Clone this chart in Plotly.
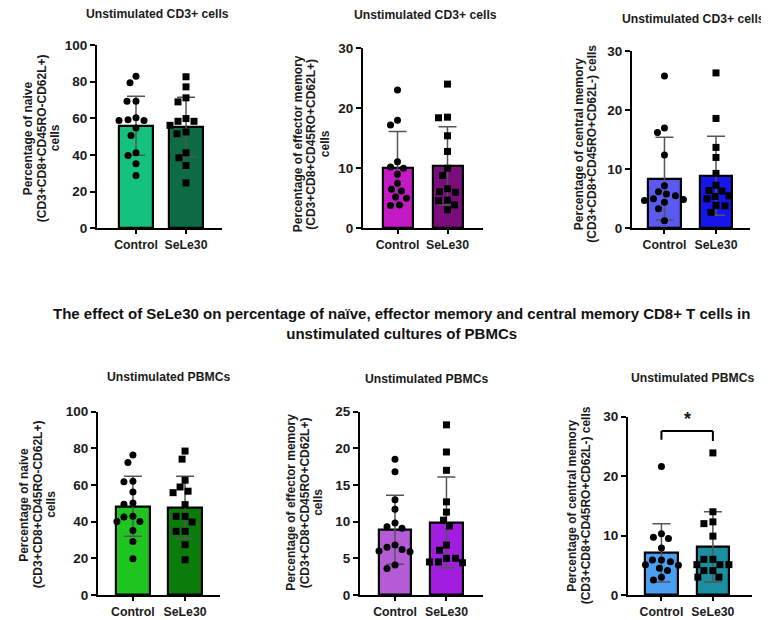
import plotly.graph_objects as go

W, H = 769, 620
# observed rendering frame: figure drawn from x=8, y=16 with 604 px of height
DX, DY, HH = 8, 16, 604


def PX(x):
    return (x - DX) / W


def PY(y):
    return 1 - (y - DY) / HH


categories = ["Control", "SeLe30"]

panel_titles = ["Unstimulated CD3+ cells"] * 3 + ["Unstimulated PBMCs"] * 3
y_titles = [
    ["Percentage of naive", "(CD3+CD8+CD45RO-CD62L+)", "cells"],
    ["Percentage of effector memory", "(CD3+CD8+CD45RO+CD62L+)", "cells"],
    ["Percentage of central memory", "(CD3+CD8+CD45RO+CD62L-) cells"],
    ["Percentage of naive", "(CD3+CD8+CD45RO-CD62L+)", "cells"],
    ["Percentage of effector memory", "(CD3+CD8+CD45RO+CD62L+)", "cells"],
    ["Percentage of central memory", "(CD3+CD8+CD45RO+CD62L-) cells"],
]
main_title = ("The effect of SeLe30 on percentage of naïve, effector memory and central memory CD8+ T cells in"
              "<br>unstimulated cultures of PBMCs")

# individual donor values
cd3_naive_ctrl = [83.0, 79.4, 69.3, 69.3, 60.4, 59.3, 58.9, 58.9, 54.7, 50.7, 41.2, 39.8, 35.2, 28.8]
cd3_naive_sele = [82.7, 77.2, 71.2, 69.0, 59.9, 58.4, 58.4, 56.2, 52.6, 51.6, 41.2, 38.5, 34.3, 24.8]
cd3_em_ctrl = [23.0, 18.0, 17.2, 11.1, 10.2, 10.0, 9.0, 7.5, 6.5, 6.2, 5.2, 5.0, 3.9, 3.8]
cd3_em_sele = [24.0, 18.5, 18.4, 15.4, 12.8, 10.0, 8.8, 6.6, 6.1, 6.0, 4.7, 4.6, 3.9, 3.1]
cd3_cm_ctrl = [25.8, 17.0, 16.2, 12.4, 7.2, 6.2, 5.8, 5.5, 5.0, 4.9, 4.7, 4.4, 3.3, 1.3]
cd3_cm_sele = [26.3, 18.6, 13.7, 12.0, 9.3, 7.3, 6.4, 6.3, 5.5, 5.4, 5.0, 3.9, 3.8, 2.7]
pbmc_naive_ctrl = [76.3, 72.3, 62.0, 61.7, 56.2, 50.2, 49.5, 42.9, 42.5, 40.1, 40.1, 35.2, 29.2, 19.7]
pbmc_naive_sele = [78.5, 74.1, 62.6, 58.9, 56.6, 55.8, 49.3, 42.9, 42.9, 39.8, 34.7, 34.7, 27.4, 19.2]
pbmc_em_ctrl = [18.5, 16.8, 13.0, 11.7, 9.8, 9.3, 9.1, 6.8, 6.5, 6.2, 6.0, 5.9, 4.1, 3.6]
pbmc_em_sele = [23.2, 19.5, 17.0, 12.7, 11.3, 10.2, 9.4, 6.8, 6.1, 5.0, 5.0, 4.5, 4.5, 4.4]
pbmc_cm_ctrl = [21.6, 10.3, 9.7, 9.5, 7.9, 5.9, 5.9, 5.6, 5.1, 5.0, 4.5, 4.1, 3.0, 2.5]
pbmc_cm_sele = [23.9, 14.0, 12.3, 12.0, 9.9, 6.0, 6.0, 5.1, 5.1, 5.1, 4.1, 4.1, 3.0, 3.0]

# bar heights (mean) and error bars (SD)
means_ctrl = [56.0, 10.0, 8.4, 48.4, 8.9, 7.1]
means_sele = [55.3, 10.4, 8.9, 47.8, 9.9, 8.1]
sd_ctrl = [16.1, 6.1, 7.0, 16.4, 4.7, 4.9]
sd_sele = [16.2, 6.5, 6.7, 17.0, 6.2, 5.9]

y_max = [100, 30, 30, 100, 25, 30]
y_dtick = [20, 10, 10, 20, 5, 10]

significance_label = "*"
sig_bracket_y = 27.6
sig_left_end = 26.1
sig_right_end = 25.9
sig_star_y = 29.6

ctrl_data = [cd3_naive_ctrl, cd3_em_ctrl, cd3_cm_ctrl, pbmc_naive_ctrl, pbmc_em_ctrl, pbmc_cm_ctrl]
sele_data = [cd3_naive_sele, cd3_em_sele, cd3_cm_sele, pbmc_naive_sele, pbmc_em_sele, pbmc_cm_sele]

ctrl_colors = ["#14C27D", "#C41AC6", "#5A5AF0", "#20C420", "#B45CD8", "#4C9EF2"]
sele_colors = ["#0D6B46", "#7A0C7C", "#1616EC", "#0B7B0B", "#A11DDF", "#1A8FA0"]

# layout geometry (target pixels in the reference)
x_px = [(97, 222), (363, 483), (632, 750), (98, 220), (360, 483), (628, 752)]
y_px = [(46, 229), (49, 229), (52, 229), (412, 595), (412, 595), (417, 595)]
x_ranges = [(-0.78, 1.72), (-0.69, 1.71), (-0.63, 1.66), (-0.67, 1.67), (-0.68, 1.71), (-0.65, 1.76)]
bar_widths = [0.68, 0.6, 0.64, 0.65, 0.64, 0.63]
title_pos = [(157, 15), (425, 16), (693, 20), (168, 377), (427, 379), (692, 378)]
ytitle_x = [(28, 42, 55), (298, 311.5, 325), (579, 592.5), (24, 37.5, 51), (291, 304.5, 318), (572, 585.5)]
ytitle_y = [139, 145, 145, 505, 503, 506]

FONT = "Liberation Sans, Arial, sans-serif"
MARK = 7


def swarm(vals, px_per_x, px_per_y, diam):
    placed = []
    offs = [0.0] * len(vals)
    order = sorted(range(len(vals)), key=lambda i: -vals[i])
    cands = [0]
    for k in range(1, 60):
        cands += [-k, k]
    for i in order:
        yp = vals[i] * px_per_y
        for c in cands:
            ok = True
            for (xq, yq) in placed:
                if (c - xq) ** 2 + (yp - yq) ** 2 < (diam + 1.2) ** 2:
                    ok = False
                    break
            if ok:
                placed.append((c, yp))
                offs[i] = c / px_per_x
                break
    return offs


fig = go.Figure()
annotations = []
shapes = []

for p in range(6):
    ax = "" if p == 0 else str(p + 1)
    xref, yref = "x" + ax, "y" + ax
    x0, x1 = x_px[p]
    yt, yb = y_px[p]
    xr = x_ranges[p]
    px_per_x = (x1 - x0) / (xr[1] - xr[0])
    px_per_y = (yb - yt) * HH / H / y_max[p]

    fig.add_trace(go.Bar(
        x=[0, 1], y=[means_ctrl[p], means_sele[p]],
        width=bar_widths[p],
        marker=dict(color=[ctrl_colors[p], sele_colors[p]], line=dict(color="black", width=2.2)),
        error_y=dict(type="data", array=[sd_ctrl[p], sd_sele[p]], color="#555555", thickness=1.5,
                     width=9),
        xaxis=xref, yaxis=yref, showlegend=False, hoverinfo="skip",
    ))
    for g, (vals, sym) in enumerate([(ctrl_data[p], "circle"), (sele_data[p], "square")]):
        offs = swarm(vals, px_per_x, px_per_y, MARK)
        fig.add_trace(go.Scatter(
            x=[g + o for o in offs], y=vals, mode="markers",
            marker=dict(symbol=sym, size=MARK, color="black", line=dict(width=0)),
            xaxis=xref, yaxis=yref, showlegend=False, cliponaxis=False,
        ))

    fig.update_layout(**{
        "xaxis" + ax: dict(
            domain=[PX(x0), PX(x1)], range=list(xr), anchor=yref,
            tickvals=[0, 1], ticktext=categories, showline=True, linecolor="black", linewidth=2,
            ticks="outside", ticklen=4, tickwidth=2, tickcolor="black", showgrid=False, zeroline=False,
            tickfont=dict(family=FONT, size=12.3, color="#1a1a1a", weight="bold"), fixedrange=True,
        ),
        "yaxis" + ax: dict(
            domain=[PY(yb), PY(yt)], range=[0, y_max[p]], anchor=xref,
            dtick=y_dtick[p], tick0=0, showline=True, linecolor="black", linewidth=2,
            ticks="outside", ticklen=5, tickwidth=2, tickcolor="black", showgrid=False, zeroline=False,
            tickfont=dict(family=FONT, size=13.5, color="#1a1a1a", weight="bold"), fixedrange=True,
        ),
    })

    annotations.append(dict(
        text=panel_titles[p], x=PX(title_pos[p][0]), y=PY(title_pos[p][1]),
        xref="paper", yref="paper", showarrow=False, xanchor="center", yanchor="middle",
        font=dict(family=FONT, size=12.2, color="#1a1a1a", weight="bold"),
    ))
    for line, lx in zip(y_titles[p], ytitle_x[p]):
        annotations.append(dict(
            text=line, x=PX(lx), y=PY(ytitle_y[p]),
            xref="paper", yref="paper", showarrow=False, xanchor="center", yanchor="middle",
            textangle=-90, font=dict(family=FONT, size=12, color="#1a1a1a", weight="bold"),
        ))

# significance bracket in last panel
for (xa, ya, xb, yb2) in [(0, sig_left_end, 0, sig_bracket_y), (0, sig_bracket_y, 1, sig_bracket_y),
                          (1, sig_bracket_y, 1, sig_right_end)]:
    shapes.append(dict(type="line", xref="x6", yref="y6", x0=xa, y0=ya, x1=xb, y1=yb2,
                       line=dict(color="black", width=2)))
annotations.append(dict(text=significance_label, x=0.5, y=sig_star_y, xref="x6", yref="y6",
                        showarrow=False, font=dict(family=FONT, size=18, color="#1a1a1a", weight="bold"),
                        xanchor="center", yanchor="middle"))

annotations.append(dict(
    text=main_title, x=PX(401), y=PY(324), xref="paper", yref="paper", showarrow=False,
    xanchor="center", yanchor="middle", align="center",
    font=dict(family=FONT, size=15, color="#111111", weight="bold"),
))

fig.update_layout(
    width=W, height=H, margin=dict(l=0, r=0, t=0, b=0),
    paper_bgcolor="white", plot_bgcolor="white",
    annotations=annotations, shapes=shapes, bargap=0,
)

fig.write_html("out.html")
